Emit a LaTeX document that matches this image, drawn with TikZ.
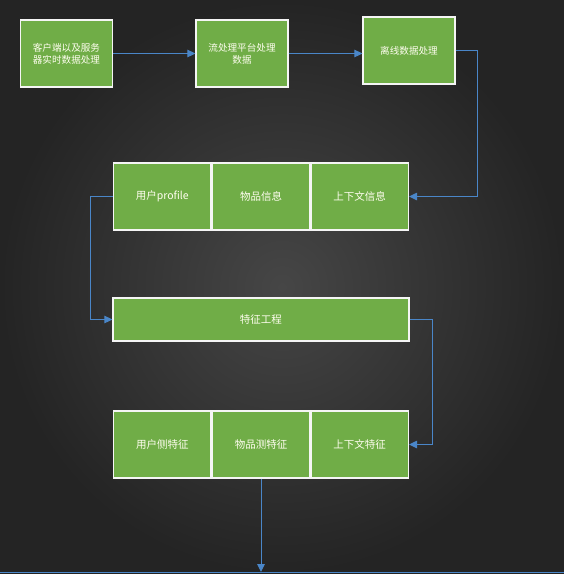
\documentclass[tikz,border=0pt]{standalone}
\usepackage{fontspec}
\setmainfont{Noto Sans CJK SC}
\usepackage{tikz}
\usepackage{xcolor}
\usetikzlibrary{positioning, arrows.meta}
\definecolor{boxgreen}{RGB}{112,173,71}
\definecolor{linkblue}{RGB}{74,134,200}
\definecolor{bgdark}{RGB}{36,36,36}
\definecolor{bglight}{RGB}{70,70,70}

\begin{document}
\begin{tikzpicture}[x=1pt, y=-1pt,
    stepbox/.style={rectangle, draw=white!92!gray, line width=1.2pt, fill=boxgreen, minimum width=92pt, minimum height=67pt, align=center, text=white!94!yellow, font=\fontsize{9.6}{12}\selectfont, inner sep=2pt, text width=80pt},
    cellbox/.style={stepbox, minimum width=97.5pt, text width=88pt, font=\fontsize{10.5}{13}\selectfont},
    arrow/.style={-{Triangle[length=8pt,width=7.5pt]}, draw=linkblue, line width=1pt}
]

% background
\fill[inner color=bglight, outer color=bgdark] (0,0) rectangle (564,574);
\useasboundingbox (0,0) rectangle (564,574);

% data sources
\node[stepbox] (client) at (66.5,53.5) {客户端以及服务\\器实时数据处理};
\node[stepbox] (stream) at (242,53.5) {流处理平台处理\\数据};
\node[stepbox] (offline) at (409,50.5) {离线数据处理};

% raw information
\node[cellbox] (userinfo) at (162.3,196.5) {用户profile};
\node[cellbox, right=0pt of userinfo] (iteminfo) {物品信息};
\node[cellbox, right=0pt of iteminfo] (ctxinfo) {上下文信息};

% feature engineering
\node[cellbox, minimum width=296pt, minimum height=43pt, text width=280pt] (feature) at (261,319.5) {特征工程};

% features
\node[cellbox] (userfeat) at (162.3,444.5) {用户侧特征};
\node[cellbox, right=0pt of userfeat] (itemfeat) {物品测特征};
\node[cellbox, right=0pt of itemfeat] (ctxfeat) {上下文特征};

\coordinate (bottomL) at (0,572);
\coordinate (bottomR) at (564,572);
\coordinate (outlet) at (itemfeat.south |- bottomL);

\draw[arrow] (client) -- (stream);
\draw[arrow] (stream.east) -- (offline.west |- stream.east);
\draw[arrow] (offline.east) -- ++(22,0) |- (ctxinfo.east);
\draw[arrow] (userinfo.west) -- ++(-22,0) |- (feature.west);
\draw[arrow] (feature.east) -- ++(23,0) |- (ctxfeat.east);
\draw[arrow] (itemfeat.south) -- (outlet);
\draw[linkblue, line width=1pt] (bottomL) -- (bottomR);

\end{tikzpicture}
\end{document}
